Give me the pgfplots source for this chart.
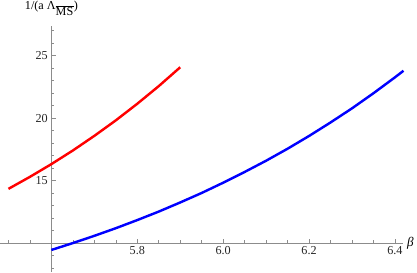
\documentclass[border=0pt]{standalone}
\usepackage{pgfplots}
\pgfplotsset{compat=1.18}
\usepackage{fontspec}
\setmainfont{Liberation Serif}
\begin{document}
\begin{tikzpicture}
\begin{axis}[
  scale only axis, width=398pt, height=243pt,
  axis lines=middle,
  axis line style={-, color=gray!90, line width=0.6pt},
  xmin=-0.119, xmax=0.82, ymin=-2.3, ymax=17.4,
  xtick={0.2,0.4,0.6,0.8}, xticklabels={5.8,6.0,6.2,6.4},
  ytick={5,10,15}, yticklabels={15,20,25},
  minor xtick={-0.1,-0.05,0.05,0.1,0.15,0.25,0.3,0.35,0.45,0.5,0.55,0.65,0.7,0.75},
  minor ytick={-2,-1,1,2,3,4,6,7,8,9,11,12,13,14,16,17},
  tick align=inside, major tick length=4.5pt, minor tick length=2.7pt,
  every tick/.style={color=gray!90, line width=0.6pt},
  ticklabel style={font=\fontsize{12}{14}\selectfont, text=black!85},
  /pgf/number format/assume math mode=true,
  clip=false,
]
\addplot[red, line width=2.4pt] table[x expr=\thisrow{b}-5.6, y expr=\thisrow{v}-10] {
b v
5.50 14.35
5.55 15.31
5.60 16.33
5.65 17.42
5.70 18.59
5.75 19.83
5.80 21.16
5.85 22.57
5.90 24.08
};
\addplot[blue, line width=2.4pt] table[x expr=\thisrow{b}-5.6, y expr=\thisrow{v}-10] {
b v
5.60 9.46
5.65 10.01
5.70 10.59
5.75 11.20
5.80 11.85
5.85 12.53
5.90 13.26
5.95 14.02
6.00 14.84
6.05 15.70
6.10 16.60
6.15 17.56
6.20 18.58
6.25 19.66
6.30 20.79
6.35 22.00
6.40 23.27
6.42 23.80
};
\node[anchor=west, font=\fontsize{13}{15}\selectfont\itshape] at (axis cs:0.82,0) {β};
\node[anchor=south, font=\fontsize{12}{14}\selectfont, inner sep=1pt, yshift=9pt] at (axis cs:0,17.4) {1/(a Λ$_{\overline{\textrm{MS}}}$)};
\end{axis}
\end{tikzpicture}
\end{document}
